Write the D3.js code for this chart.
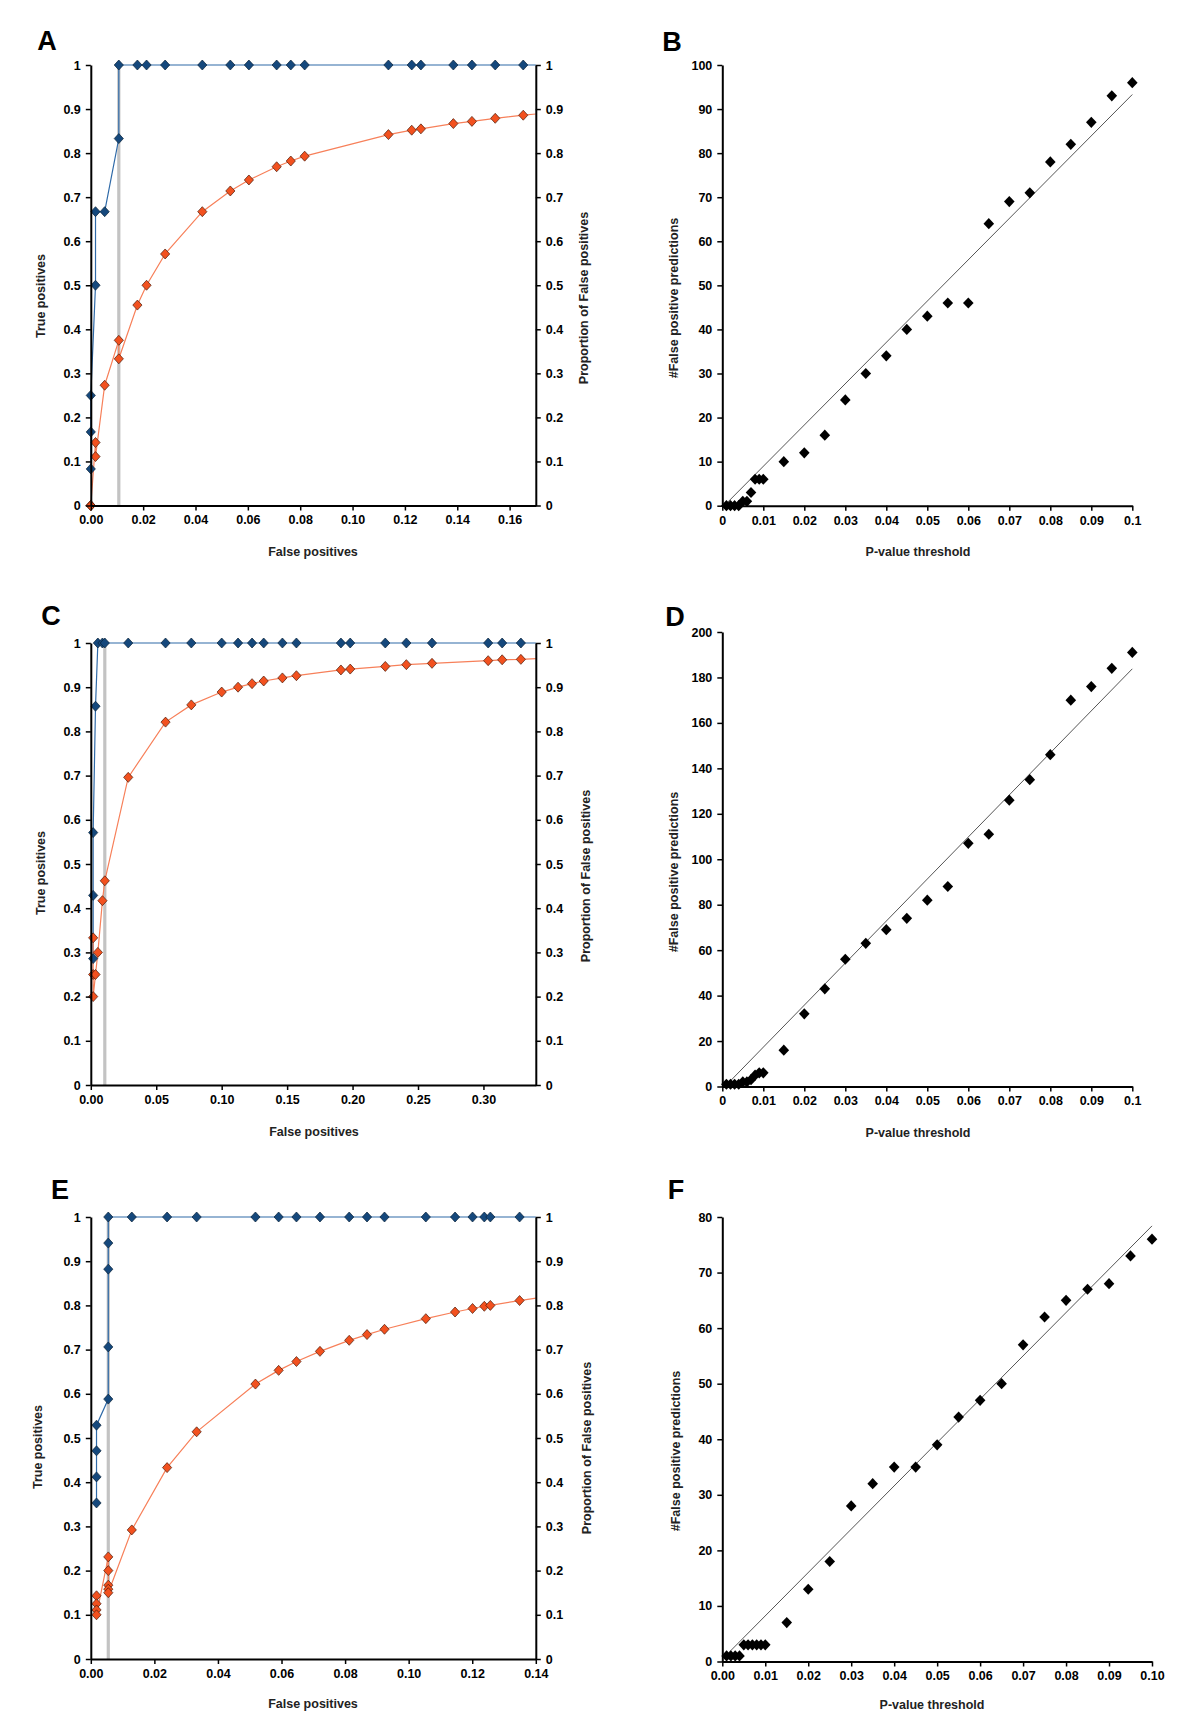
<!DOCTYPE html>
<html><head><meta charset="utf-8">
<script src="https://cdn.jsdelivr.net/npm/d3@7"></script>
<style>
body{margin:0;background:#fff;}
svg text{font-family:"Liberation Sans",Arial,sans-serif;font-weight:bold;}
</style></head><body>
<svg id="fig" width="1200" height="1735"></svg>
<script>
// ---------- DATA ----------
// Panel A (ROC-like): false positive rate, true positive rate, proportion of false positives
const aFP   = [0,0,0,0.0018,0.0018,0.0053,0.0107,0.0107,0.0178,0.0213,0.0284,0.0426,0.0533,0.0604,0.0710,0.0764,0.0817,0.1137,0.1226,0.1261,0.1385,0.1456,0.1545,0.1652,0.1705];
const aTP   = [0.083,0.167,0.25,0.5,0.667,0.667,0.833,1,1,1,1,1,1,1,1,1,1,1,1,1,1,1,1,1,1];
const aProp = [0,0,0,0.143,0.111,0.273,0.375,0.333,0.455,0.5,0.571,0.667,0.714,0.739,0.769,0.782,0.793,0.842,0.852,0.855,0.867,0.872,0.879,0.886,0.889];
const aThreshold = 0.0107;

// Panel C
const cFP   = [0.0018,0.0018,0.0018,0.0036,0.0054,0.0089,0.0107,0.0286,0.0571,0.0768,0.1000,0.1125,0.1232,0.1321,0.1464,0.1571,0.1911,0.1982,0.2250,0.2411,0.2607,0.3036,0.3143,0.3286,0.3411];
const cTP   = [0.286,0.429,0.571,0.857,1,1,1,1,1,1,1,1,1,1,1,1,1,1,1,1,1,1,1,1,1];
const cProp = [0.333,0.25,0.2,0.25,0.3,0.417,0.462,0.696,0.821,0.86,0.889,0.9,0.908,0.914,0.921,0.926,0.939,0.941,0.947,0.951,0.954,0.96,0.962,0.963,0.965];
const cThreshold = 0.0107;

// Panel E
const eFP   = [0.0018,0.0018,0.0018,0.0018,0.0055,0.0055,0.0055,0.0055,0.0055,0.0129,0.0240,0.0333,0.0518,0.0591,0.0647,0.0721,0.0813,0.0869,0.0924,0.1054,0.1146,0.1201,0.1238,0.1257,0.1349,0.1405];
const eTP   = [0.353,0.412,0.471,0.529,0.588,0.706,0.882,0.941,1,1,1,1,1,1,1,1,1,1,1,1,1,1,1,1,1,1];
const eProp = [0.143,0.125,0.111,0.1,0.231,0.2,0.167,0.158,0.15,0.292,0.433,0.514,0.622,0.653,0.673,0.696,0.721,0.734,0.746,0.770,0.785,0.793,0.798,0.8,0.811,0.817];
const eThreshold = 0.0055;

// Panels B, D, F: P-value threshold vs #false positive predictions
const pThresholds = [0.001,0.002,0.003,0.004,0.005,0.006,0.007,0.008,0.009,0.01,0.015,0.02,0.025,0.03,0.035,0.04,0.045,0.05,0.055,0.06,0.065,0.07,0.075,0.08,0.085,0.09,0.095,0.1];
const bCounts = [0,0,0,0,1,1,3,6,6,6,10,12,16,24,30,34,40,43,46,46,64,69,71,78,82,87,93,96];
const dCounts = [1,1,1,1,2,2,3,5,6,6,16,32,43,56,63,69,74,82,88,107,111,126,135,146,170,176,184,191];
const fCounts = [1,1,1,1,3,3,3,3,3,3,7,13,18,28,32,35,35,39,44,47,50,57,62,65,67,68,73,76];
// reference (expected) lines: [p, count] endpoints
const bRef = [[0.001,0.5],[0.1,93.3]];
const dRef = [[0.002,2.5],[0.1,183.8]];
const fRef = [[0.001,1.2],[0.1,78.4]];

// Tick values
const propTicks = [0,0.1,0.2,0.3,0.4,0.5,0.6,0.7,0.8,0.9,1];
const aXTicks = [0,0.02,0.04,0.06,0.08,0.10,0.12,0.14,0.16];
const cXTicks = [0,0.05,0.10,0.15,0.20,0.25,0.30];
const eXTicks = [0,0.02,0.04,0.06,0.08,0.10,0.12,0.14];
const pTicks  = [0,0.01,0.02,0.03,0.04,0.05,0.06,0.07,0.08,0.09,0.1];
const bYTicks = [0,10,20,30,40,50,60,70,80,90,100];
const dYTicks = [0,20,40,60,80,100,120,140,160,180,200];
const fYTicks = [0,10,20,30,40,50,60,70,80];

// ---------- DRAWING ----------
const svg = d3.select("#fig");
const BLUE_FILL = "#15487c", BLUE_LINE = "#2f6aa8", BLUE_EDGE = "#0a2238";
const ORANGE_FILL = "#f2511f", ORANGE_LINE = "#f7805a", ORANGE_EDGE = "#4a1a08";

function diamond(w, h){ return `M0,${-h}L${w},0L0,${h}L${-w},0Z`; }
const fmtProp = d => String(Math.round(d*10)/10);

function styleAxis(sel){
  sel.select(".domain").attr("stroke","#000").attr("stroke-width",2);
  sel.selectAll(".tick line").attr("stroke","#000").attr("stroke-width",1.5);
  sel.selectAll(".tick text").attr("fill","#000").attr("font-size",12.5)
     .attr("font-family","'Liberation Sans',Arial,sans-serif").attr("font-weight","bold");
}

function panelLetter(t, x, y){
  svg.append("text").attr("x",x).attr("y",y).attr("text-anchor","middle")
    .attr("font-size",27).attr("fill","#000").text(t);
}
function vTitle(t, x, y){
  svg.append("text").attr("transform",`translate(${x},${y}) rotate(-90)`)
    .attr("text-anchor","middle").attr("dominant-baseline","central")
    .attr("font-size",12.5).attr("fill","#222").text(t);
}
function hTitle(t, x, y){
  svg.append("text").attr("x",x).attr("y",y).attr("text-anchor","middle")
    .attr("dominant-baseline","central").attr("font-size",12.5).attr("fill","#222").text(t);
}

function rocPanel(p){
  const w = p.right - p.left, h = p.bottom - p.top;
  const g = svg.append("g").attr("transform",`translate(${p.left},${p.top})`);
  const x = d3.scaleLinear().domain([0,p.xmax]).range([0,w]);
  const y = d3.scaleLinear().domain([0,1]).range([h,0]);
  const cid = "clip"+p.name;
  g.append("clipPath").attr("id",cid).append("rect")
    .attr("x",-20).attr("y",-20).attr("width",w+20).attr("height",h+40);

  // threshold line
  g.append("line").attr("x1",x(p.thr)).attr("x2",x(p.thr)).attr("y1",y(0)).attr("y2",y(1))
    .attr("stroke","#c3c3c3").attr("stroke-width",3.2);

  const pts = p.fp.map((v,i)=>({x:v, tp:p.tp[i], pr:p.prop[i]}));
  const inside = pts.filter(d => d.x <= p.xmax);
  const plot = g.append("g").attr("clip-path",`url(#${cid})`);

  plot.append("path").datum(pts).attr("fill","none").attr("stroke",BLUE_LINE).attr("stroke-width",1.2)
    .attr("d", d3.line().x(d=>x(d.x)).y(d=>y(d.tp)));
  plot.append("path").datum(pts).attr("fill","none").attr("stroke",ORANGE_LINE).attr("stroke-width",1.2)
    .attr("d", d3.line().x(d=>x(d.x)).y(d=>y(d.pr)));

  plot.selectAll(".bm").data(inside).join("path").attr("class","bm")
    .attr("transform",d=>`translate(${x(d.x)},${y(d.tp)})`).attr("d",diamond(4.6,5))
    .attr("fill",BLUE_FILL).attr("stroke",BLUE_EDGE).attr("stroke-width",0.7);
  plot.selectAll(".om").data(inside).join("path").attr("class","om")
    .attr("transform",d=>`translate(${x(d.x)},${y(d.pr)})`).attr("d",diamond(4.6,5))
    .attr("fill",ORANGE_FILL).attr("stroke",ORANGE_EDGE).attr("stroke-width",0.7);

  g.append("g").call(d3.axisLeft(y).tickValues(propTicks).tickFormat(fmtProp).tickSize(5).tickSizeOuter(0).tickPadding(5)).call(styleAxis);
  g.append("g").attr("transform",`translate(${w},0)`)
    .call(d3.axisRight(y).tickValues(propTicks).tickFormat(fmtProp).tickSize(5).tickSizeOuter(0).tickPadding(5)).call(styleAxis);
  g.append("g").attr("transform",`translate(0,${h})`)
    .call(d3.axisBottom(x).tickValues(p.xTicks).tickFormat(d3.format(".2f")).tickSize(5).tickSizeOuter(0).tickPadding(5)).call(styleAxis);

  panelLetter(p.name, p.letter[0], p.letter[1]);
  vTitle("True positives", p.yTitle[0], p.yTitle[1]);
  vTitle("Proportion of False positives", p.rTitle[0], p.rTitle[1]);
  hTitle("False positives", p.xTitle[0], p.xTitle[1]);
}

function scatterPanel(p){
  const w = p.right - p.left, h = p.bottom - p.top;
  const g = svg.append("g").attr("transform",`translate(${p.left},${p.top})`);
  const x = d3.scaleLinear().domain([0,0.1]).range([0,w]);
  const y = d3.scaleLinear().domain([0,p.ymax]).range([h,0]);

  g.append("path").datum(p.ref).attr("fill","none").attr("stroke","#555").attr("stroke-width",1)
    .attr("d", d3.line().x(d=>x(d[0])).y(d=>y(d[1])));

  const pts = pThresholds.map((v,i)=>({p:v, c:p.counts[i]}));
  g.selectAll(".sm").data(pts).join("path").attr("class","sm")
    .attr("transform",d=>`translate(${x(d.p)},${y(d.c)})`).attr("d",diamond(5.3,5.6))
    .attr("fill","#000");

  g.append("g").call(d3.axisLeft(y).tickValues(p.yTicks).tickFormat(d3.format("d")).tickSize(5).tickSizeOuter(0).tickPadding(5)).call(styleAxis);
  g.append("g").attr("transform",`translate(0,${h})`)
    .call(d3.axisBottom(x).tickValues(pTicks).tickFormat(p.xFmt).tickSize(5).tickSizeOuter(0).tickPadding(5)).call(styleAxis);

  panelLetter(p.name, p.letter[0], p.letter[1]);
  vTitle("#False positive predictions", p.yTitle[0], p.yTitle[1]);
  hTitle("P-value threshold", p.xTitle[0], p.xTitle[1]);
}

const shortFmt = d => String(Math.round(d*100)/100);

rocPanel({name:"A", left:90.8, right:535.8, top:65, bottom:505.5, xmax:0.17, xTicks:aXTicks,
  fp:aFP, tp:aTP, prop:aProp, thr:aThreshold,
  letter:[47,50], yTitle:[41,296], rTitle:[584,298], xTitle:[313,552]});
rocPanel({name:"C", left:90.8, right:535.8, top:643, bottom:1085, xmax:0.34, xTicks:cXTicks,
  fp:cFP, tp:cTP, prop:cProp, thr:cThreshold,
  letter:[51,625], yTitle:[41,873], rTitle:[586,876], xTitle:[314,1132]});
rocPanel({name:"E", left:90.8, right:535.8, top:1217, bottom:1659, xmax:0.14, xTicks:eXTicks,
  fp:eFP, tp:eTP, prop:eProp, thr:eThreshold,
  letter:[60,1199], yTitle:[38,1447], rTitle:[587,1448], xTitle:[313,1704]});

scatterPanel({name:"B", left:722.3, right:1132.3, top:65, bottom:505.7, ymax:100, yTicks:bYTicks,
  counts:bCounts, ref:bRef, xFmt:shortFmt, letter:[672,51], yTitle:[674,298], xTitle:[918,552]});
scatterPanel({name:"D", left:722.3, right:1132.3, top:632, bottom:1086.5, ymax:200, yTicks:dYTicks,
  counts:dCounts, ref:dRef, xFmt:shortFmt, letter:[675,626], yTitle:[674,872], xTitle:[918,1133]});
scatterPanel({name:"F", left:722.3, right:1152, top:1217, bottom:1661.5, ymax:80, yTicks:fYTicks,
  counts:fCounts, ref:fRef, xFmt:d3.format(".2f"), letter:[676,1199], yTitle:[676,1451], xTitle:[932,1705]});
</script>
</body></html>
